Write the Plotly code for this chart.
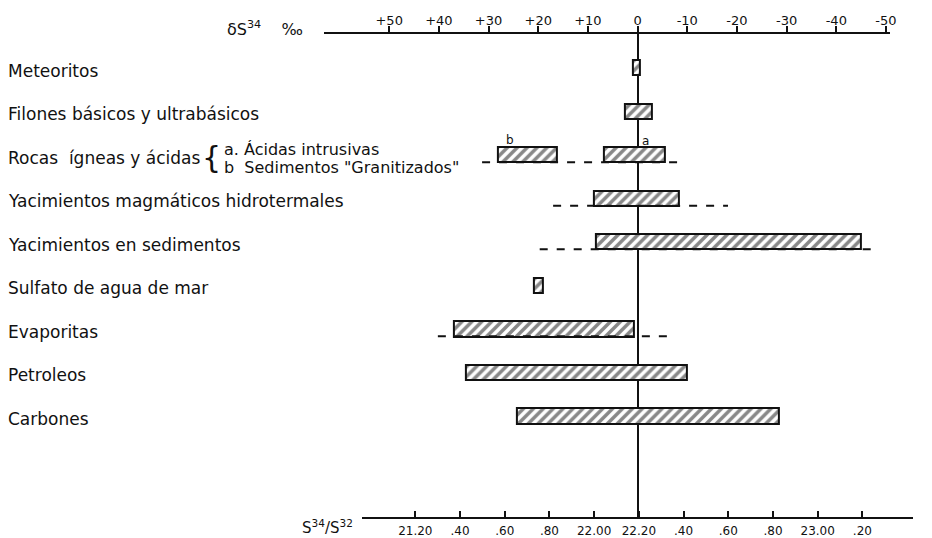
import plotly.graph_objects as go

# ---------------- data ----------------
categories = [
    "Meteoritos",
    "Filones básicos y ultrabásicos",
    "Rocas  ígneas y ácidas",
    "Yacimientos magmáticos hidrotermales",
    "Yacimientos en sedimentos",
    "Sulfato de agua de mar",
    "Evaporitas",
    "Petroleos",
    "Carbones",
]

# hatched bars (delta S34 per mil), row index into categories
bar_rows = [0, 1, 2, 2, 3, 4, 5, 6, 7, 8]
bar_start = [0.9, 2.5, 28.2, 6.7, 8.7, 8.3, 20.8, 37.0, 34.5, 24.2]
bar_end = [-0.5, -2.8, 16.3, -5.5, -8.4, -45.0, 19.0, 0.7, -9.9, -28.5]

# dashed extended ranges
range_rows = [2, 3, 4, 6]
range_hi = [31.3, 17.0, 19.7, 40.2]
range_lo = [-8.3, -18.2, -48.1, -6.9]

# top axis ticks (delta S34)
delta_ticks = [50, 40, 30, 20, 10, 0, -10, -20, -30, -40, -50]
delta_labels = ["+50", "+40", "+30", "+20", "+10", "0", "-10", "-20", "-30", "-40", "-50"]

# bottom axis ticks (S34/S32 ratio)
ratio_ticks = [21.20, 21.40, 21.60, 21.80, 22.00, 22.20, 22.40, 22.60, 22.80, 23.00, 23.20]
ratio_labels = ["21.20", ".40", ".60", ".80", "22.00", "22.20", ".40", ".60", ".80", "23.00", ".20"]

# ---------------- layout geometry ----------------
W, H = 932, 538
TOP, BOT = 34, 518
ZERO_PX, PX_PER_DELTA = 641.7, 5.0
R0_PX, PX_PER_R = 643.0, 225.0
top_dom = (326.0, 896.0)
bot_dom = (364.5, 919.0)
ROW0, ROWSTEP = 67.9, 43.6

def px2delta(p):
    return (ZERO_PX - p) / PX_PER_DELTA

def px2ratio(p):
    return 22.2 + (p - R0_PX) / PX_PER_R

def py2row(p):
    return (p - ROW0) / ROWSTEP

def py2paper(p):
    return (BOT - p) / (BOT - TOP)

FONT = "DejaVu Sans"
INK = "#111111"

fig = go.Figure()

# dashed ranges
for r, hi, lo in zip(range_rows, range_hi, range_lo):
    fig.add_trace(go.Scatter(
        x=[hi, lo], y=[r + 0.17, r + 0.17], mode="lines",
        line=dict(color=INK, width=2, dash="8px,9px"),
        hoverinfo="skip", showlegend=False,
    ))

# hatched bars
fig.add_trace(go.Bar(
    orientation="h",
    y=bar_rows,
    base=bar_start,
    x=[e - s for s, e in zip(bar_start, bar_end)],
    width=0.35,
    marker=dict(
        color="white",
        line=dict(color=INK, width=2),
        pattern=dict(shape="/", fgcolor=INK, bgcolor="white", size=7, solidity=0.5),
    ),
    showlegend=False,
))

# dummy trace for the bottom ratio axis
fig.add_trace(go.Scatter(x=[ratio_ticks[0]], y=[None], xaxis="x2", yaxis="y",
                         mode="markers", showlegend=False, hoverinfo="skip"))

fig.update_layout(
    width=W, height=H,
    margin=dict(l=0, r=0, t=TOP, b=H - BOT),
    paper_bgcolor="white", plot_bgcolor="rgba(0,0,0,0)",
    font=dict(family=FONT, color=INK, size=13),
    xaxis=dict(
        side="top", domain=[top_dom[0] / W, top_dom[1] / W],
        range=[px2delta(top_dom[0]), px2delta(top_dom[1])],
        tickmode="array", tickvals=delta_ticks, ticktext=delta_labels,
        ticks="outside", ticklen=6, tickwidth=1.5, tickcolor=INK,
        showline=True, linewidth=2, linecolor=INK,
        showgrid=False, zeroline=True, zerolinecolor=INK, zerolinewidth=2,
        tickfont=dict(size=13, family=FONT), ticklabelstandoff=-4,
    ),
    xaxis2=dict(
        side="bottom", anchor="y",
        domain=[bot_dom[0] / W, bot_dom[1] / W],
        range=[px2ratio(bot_dom[0]), px2ratio(bot_dom[1])],
        tickmode="array", tickvals=ratio_ticks, ticktext=ratio_labels,
        ticks="inside", ticklen=6, tickwidth=1.5, tickcolor=INK,
        showline=True, linewidth=2, linecolor=INK,
        showgrid=False, zeroline=False,
        tickfont=dict(size=12, family=FONT), ticklabelstandoff=2,
    ),
    yaxis=dict(range=[py2row(BOT), py2row(TOP)], visible=False, showgrid=False, zeroline=False),
    bargap=0,
)

# row labels
for i, c in enumerate(categories):
    fig.add_annotation(
        x=6 / W, xref="paper", xanchor="left",
        y=i, yref="y", yanchor="middle", yshift=-3,
        text=c, showarrow=False, font=dict(size=17, family=FONT, color=INK),
    )

# legend brace for rocas
fig.add_annotation(x=223 / W, xref="paper", xanchor="right", y=py2row(158), yref="y",
                   text="{", showarrow=False, borderpad=0,
                   font=dict(size=30, family=FONT, color=INK))
fig.add_annotation(x=224 / W, xref="paper", xanchor="left", y=py2row(150), yref="y",
                   text="a. Ácidas intrusivas", showarrow=False, borderpad=0,
                   font=dict(size=16, family=FONT, color=INK))
fig.add_annotation(x=224 / W, xref="paper", xanchor="left", y=py2row(168), yref="y",
                   text="b  Sedimentos \"Granitizados\"", showarrow=False, borderpad=0,
                   font=dict(size=16, family=FONT, color=INK))
fig.add_annotation(x=px2delta(513), xref="x", y=py2row(140), yref="y",
                   text="b", showarrow=False, font=dict(size=12, family=FONT, color=INK))
fig.add_annotation(x=px2delta(650), xref="x", y=py2row(141), yref="y",
                   text="a", showarrow=False, font=dict(size=12, family=FONT, color=INK))

# axis titles
fig.add_annotation(x=226 / W, xref="paper", xanchor="left", y=py2paper(28),
                   yref="paper", yanchor="middle",
                   text="δS<sup>34</sup>    ‰", showarrow=False,
                   font=dict(size=16, family=FONT, color=INK))
fig.add_annotation(x=302 / W, xref="paper", xanchor="left", y=py2paper(528),
                   yref="paper", yanchor="middle",
                   text="S<sup>34</sup>/S<sup>32</sup>", showarrow=False,
                   font=dict(size=15, family=FONT, color=INK))

fig.write_html(
    "out.html",
    config={"displayModeBar": False},
    post_script="document.body.style.margin='0px';document.body.style.overflow='hidden';"
                "document.documentElement.style.overflow='hidden';",
)
